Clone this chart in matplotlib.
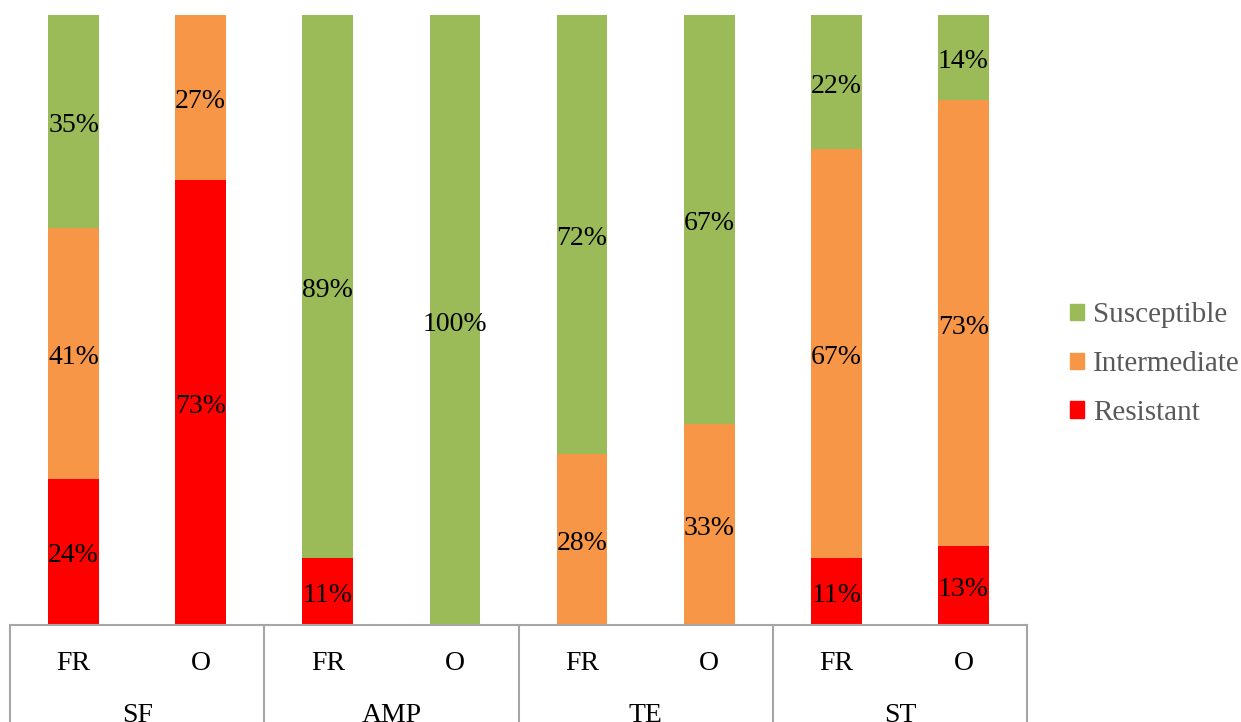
import numpy as np
import matplotlib.pyplot as plt
from matplotlib.patches import Patch
import matplotlib.transforms as mtransforms

plt.rcParams['font.family'] = ['Liberation Serif', 'DejaVu Serif']

# antibiotic groups and source categories
groups = ["SF", "AMP", "TE", "ST"]
sources = ["FR", "O"]

# percentages per bar, ordered SF-FR, SF-O, AMP-FR, AMP-O, TE-FR, TE-O, ST-FR, ST-O
resistant = [24, 73, 11, 0, 0, 0, 11, 13]
intermediate = [41, 27, 0, 0, 28, 33, 67, 73]
susceptible = [35, 0, 89, 100, 72, 67, 22, 14]

series = [
    ("Resistant", resistant, "#FF0000"),
    ("Intermediate", intermediate, "#F79646"),
    ("Susceptible", susceptible, "#9BBB59"),
]

W, H = 1241, 722
fig = plt.figure(figsize=(W / 100, H / 100), dpi=100)
ax = fig.add_axes([10 / W, (H - 625) / H, 1017 / W, 610 / H])

x = np.arange(len(groups) * len(sources))
bottom = np.zeros(len(x))
fs = 20
for name, vals, color in series:
    vals = np.array(vals, dtype=float)
    ax.bar(x, vals, width=0.4, bottom=bottom, color=color, label=name,
           edgecolor='none')
    for xi, v, b in zip(x, vals, bottom):
        if v > 0:
            ax.annotate(f"{int(v)}%", (xi, b + v / 2), xytext=(0, -3),
                        textcoords='offset points', ha='center', va='center',
                        fontsize=fs, color='black')
    bottom += vals

ax.set_xlim(-0.5, len(x) - 0.5)
ax.set_ylim(0, 100)
ax.set_yticks([])
for s in ['top', 'left', 'right']:
    ax.spines[s].set_visible(False)
ax.spines['bottom'].set_color('#A6A6A6')
ax.spines['bottom'].set_linewidth(1.5)

ax.set_xticks(x)
ax.set_xticklabels(sources * len(groups), fontsize=fs)
ax.tick_params(axis='x', length=0, pad=19)

# group separators and group labels under the axis
trans = mtransforms.blended_transform_factory(ax.transData, ax.transAxes)
for xb in np.arange(-0.5, len(x), 2):
    ax.plot([xb, xb], [0, -0.2], transform=trans, color='#A6A6A6',
            lw=1.5, clip_on=False)
for i, g in enumerate(groups):
    ax.text(2 * i + 0.5, -90 / 610, g, transform=trans, ha='center',
            va='center', fontsize=fs)

handles = [Patch(color=c, label=n) for n, _, c in series[::-1]]
leg = fig.legend(handles=handles, loc='center left',
                 bbox_to_anchor=(1070 / W, (H - 364) / H), frameon=False,
                 fontsize=21, handlelength=0.48, handleheight=0.48,
                 handletextpad=0.3, labelspacing=0.78, borderpad=0,
                 borderaxespad=0)
for t in leg.get_texts():
    t.set_color('#595959')

fig.savefig("out.png", dpi=100)
